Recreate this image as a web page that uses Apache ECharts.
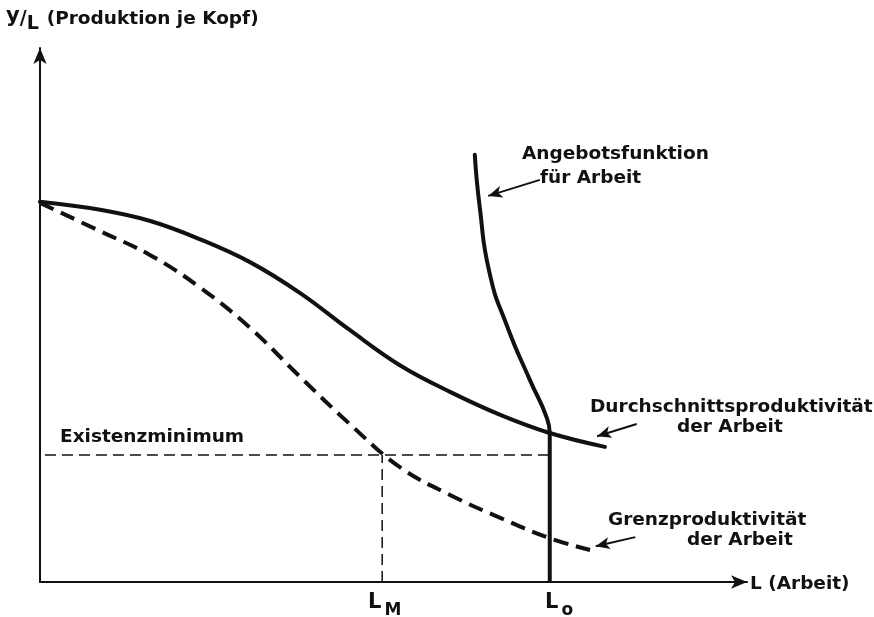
<!DOCTYPE html>
<html>
<head>
<meta charset="utf-8">
<script src="https://cdn.jsdelivr.net/npm/echarts@6/dist/echarts.min.js"></script>
<style>
  html, body { margin: 0; padding: 0; background: #fff; }
  #chart { width: 874px; height: 617px; }
</style>
</head>
<body>
<div id="chart"></div>
<script>
  // Durchschnittsproduktivität (solid) [L, y/L]
  const durchschnitt = [
    [0, 71.2], [8.5, 69.7], [15.6, 67.6], [22.6, 64.2], [29.7, 59.9], [36.8, 54.1],
    [43.8, 47.2], [50.9, 40.6], [58.0, 35.6], [65.1, 31.3], [72.1, 27.9], [79.9, 25.3]
  ]
  // Grenzproduktivität (dashed)
  const grenz = [
    [0, 71.0], [8.5, 65.7], [15.6, 61.2], [22.6, 55.2], [29.7, 47.6], [36.8, 38.4],
    [43.8, 29.6], [50.9, 21.5], [58.0, 16.3], [65.1, 12.0], [72.1, 8.2], [77.8, 6.0]
  ]
  // Angebotsfunktion für Arbeit
  const angebotKurve = [
    [61.5, 80.0], [62.2, 70.2], [63.6, 57.8], [66.1, 47.8], [69.3, 37.8], [71.7, 30.7],
    [72.1, 27.9]
  ]
  const angebotSenkrecht = [[72.1, 27.9], [72.1, 0]]
  // Existenzminimum und L_M
  const existenzminimum = 23.8
  const L_M = 48.4
  const L_0 = 72.1
  const existenzLinie = [[0.7, existenzminimum], [L_0, existenzminimum]]
  const lmLinie = [[L_M, 0], [L_M, existenzminimum]]

  const FONT = 'DejaVu Sans'
  const INK = '#111'
  const TEXT_FONT = 'bold 18.5px ' + FONT

  let myChart = echarts.init(document.getElementById('chart'))

  function pointer(from, to) {
    return {
      silent: true,
      symbol: ['none', 'arrow'],
      symbolSize: [9, 14],
      label: {show: false},
      lineStyle: {color: INK, width: 2, type: 'solid'},
      emphasis: {disabled: true},
      data: [[{coord: from}, {coord: to}]]
    }
  }

  function txt(left, top, text) {
    return {
      type: 'text',
      left: left,
      top: top,
      style: {text: text, fill: INK, font: TEXT_FONT}
    }
  }

  function subLabel(left, main, sub) {
    return {
      type: 'text',
      left: left,
      top: 592,
      style: {
        text: '{a|' + main + '}{b|' + sub + '}',
        rich: {
          a: {font: 'bold 21px ' + FONT, fill: INK},
          b: {font: 'bold 17px ' + FONT, fill: INK, padding: [16, 0, 0, 3]}
        }
      }
    }
  }

  myChart.setOption({
    animation: false,
    backgroundColor: '#fff',
    grid: {left: 40, top: 48, right: 127, bottom: 35, containLabel: false},
    xAxis: {
      type: 'value',
      min: 0,
      max: 100,
      axisLine: {
        show: true,
        symbol: ['none', 'arrow'],
        symbolSize: [10, 16],
        lineStyle: {color: INK, width: 2}
      },
      axisTick: {show: false},
      axisLabel: {show: false},
      splitLine: {show: false}
    },
    yAxis: {
      type: 'value',
      min: 0,
      max: 100,
      axisLine: {
        show: true,
        symbol: ['none', 'arrow'],
        symbolSize: [10, 16],
        lineStyle: {color: INK, width: 2}
      },
      axisTick: {show: false},
      axisLabel: {show: false},
      splitLine: {show: false}
    },
    series: [
      {
        name: 'Durchschnittsproduktivität',
        type: 'line',
        data: durchschnitt,
        smooth: 0.4,
        showSymbol: false,
        lineStyle: {color: INK, width: 4, cap: 'round'},
        markLine: pointer([84.4, 29.6], [78.8, 27.3])
      },
      {
        name: 'Grenzproduktivität',
        type: 'line',
        data: grenz,
        smooth: 0.4,
        showSymbol: false,
        lineStyle: {color: INK, width: 4, type: [15, 8]},
        markLine: pointer([84.2, 8.4], [78.6, 6.7])
      },
      {
        name: 'Angebotsfunktion',
        type: 'line',
        data: angebotKurve,
        smooth: 0.55,
        showSymbol: false,
        lineStyle: {color: INK, width: 4, cap: 'round'},
        markLine: pointer([70.7, 75.3], [63.4, 72.3])
      },
      {
        name: 'Angebot senkrecht',
        type: 'line',
        data: angebotSenkrecht,
        showSymbol: false,
        lineStyle: {color: INK, width: 4}
      },
      {
        name: 'Existenzminimum',
        type: 'line',
        data: existenzLinie,
        showSymbol: false,
        lineStyle: {color: INK, width: 1.5, type: [11, 6]}
      },
      {
        name: 'L_M',
        type: 'line',
        data: lmLinie,
        showSymbol: false,
        lineStyle: {color: INK, width: 1.5, type: [11, 6]}
      }
    ],
    graphic: [
      {
        type: 'text',
        left: 6,
        top: 6,
        style: {
          text: '{y|y}{s|/}{l|L}{t|(Produktion je Kopf)}',
          rich: {
            y: {font: 'bold 21px ' + FONT, fill: INK, padding: [0, 0, 6, 0]},
            s: {font: 'bold 19px ' + FONT, fill: INK},
            l: {font: 'bold 19px ' + FONT, fill: INK, padding: [10, 8, 0, 0]},
            t: {font: TEXT_FONT, fill: INK}
          }
        }
      },
      txt(522, 145, 'Angebotsfunktion'),
      txt(540, 169, 'für Arbeit'),
      txt(590, 398, 'Durchschnittsproduktivität'),
      txt(677, 418, 'der Arbeit'),
      txt(608, 511, 'Grenzproduktivität'),
      txt(687, 531, 'der Arbeit'),
      txt(750, 575, 'L (Arbeit)'),
      txt(60, 428, 'Existenzminimum'),
      subLabel(368, 'L', 'M'),
      subLabel(545, 'L', 'o')
    ]
  })
  myChart.resize()
</script>
</body>
</html>
